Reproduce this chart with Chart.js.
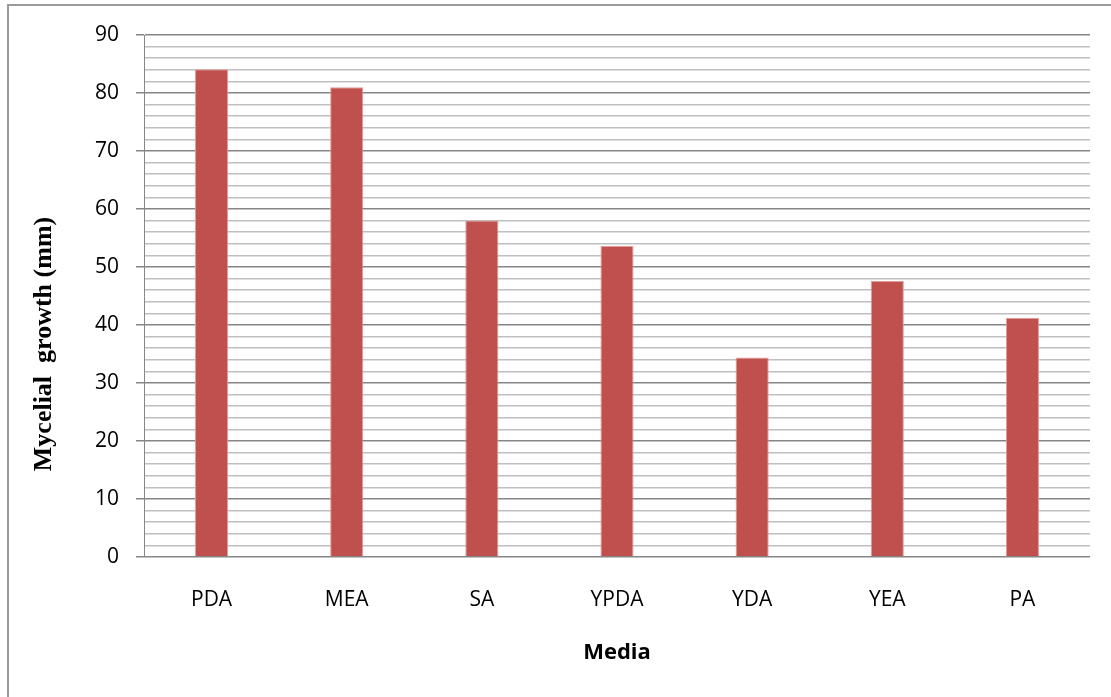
<!DOCTYPE html>
<html><head><meta charset="utf-8">
<script src="https://cdn.jsdelivr.net/npm/chart.js@4"></script>
<style>html,body{margin:0;padding:0;background:#fff}#w{width:1111px;height:697px}</style>
</head><body><div id="w"><canvas id="c"></canvas></div>
<script>
const categories = ['PDA','MEA','SA','YPDA','YDA','YEA','PA'];
const growth = [84.1, 81.0, 58.0, 53.6, 34.4, 47.6, 41.2];
const yTitle = 'Mycelial  growth (mm)';
const xTitle = 'Media';

const frame = {
  id:'frame',
  afterDraw(chart){
    const ctx = chart.ctx;
    ctx.save();
    ctx.strokeStyle = '#9a9a9a';
    ctx.lineWidth = 2;
    ctx.beginPath();
    ctx.moveTo(8, 697); ctx.lineTo(8, 5); ctx.lineTo(1111, 5);
    ctx.stroke();
    ctx.fillStyle = '#000';
    ctx.font = 'bold 26px "Liberation Serif", "DejaVu Serif", serif';
    ctx.textAlign = 'center'; ctx.textBaseline = 'middle';
    ctx.translate(44, 344); ctx.rotate(-Math.PI/2);
    ctx.fillText(yTitle, 0, 0);
    ctx.restore();
    ctx.save();
    ctx.fillStyle = '#000';
    ctx.font = 'bold 22px "Open Sans", sans-serif';
    ctx.textAlign = 'center'; ctx.textBaseline = 'middle';
    ctx.fillText(xTitle, 617, 653);
    ctx.restore();
  }
};

new Chart(document.getElementById('c'), {
  type:'bar',
  data:{labels:categories, datasets:[{data:growth, backgroundColor:'#C0504D', borderColor:'#E39B99', borderWidth:1, barPercentage:1, categoryPercentage:0.245}]},
  options:{
    responsive:true, maintainAspectRatio:false, animation:false,
    layout:{padding:{left:0, right:21, top:35, bottom:0}},
    plugins:{legend:{display:false}, tooltip:{enabled:false}},
    scales:{
      x:{
        grid:{display:false, drawTicks:false},
        border:{display:false},
        ticks:{color:'#000', font:{family:'"Open Sans", sans-serif', size:21}, padding:30},
        afterFit(s){ s.height = 140; }
      },
      y:{
        min:0, max:90,
        afterFit(s){ s.width = 144; },
        border:{display:true, color:'#868686', width:1},
        ticks:{stepSize:2, autoSkip:false, color:'#000', font:{family:'"Open Sans", sans-serif', size:21}, padding:17,
          callback(v){ return v % 10 === 0 ? String(v) : ''; }},
        grid:{
          color(ctx){ return ctx.tick && ctx.tick.value % 10 === 0 ? '#868686' : '#BFBFBF'; },
          lineWidth(ctx){ return 1.5; },
          tickColor(ctx){ return ctx.tick && ctx.tick.value % 10 === 0 ? '#868686' : 'rgba(0,0,0,0)'; },
          tickLength:8
        }
      }
    }
  },
  plugins:[frame]
});
</script></body></html>
